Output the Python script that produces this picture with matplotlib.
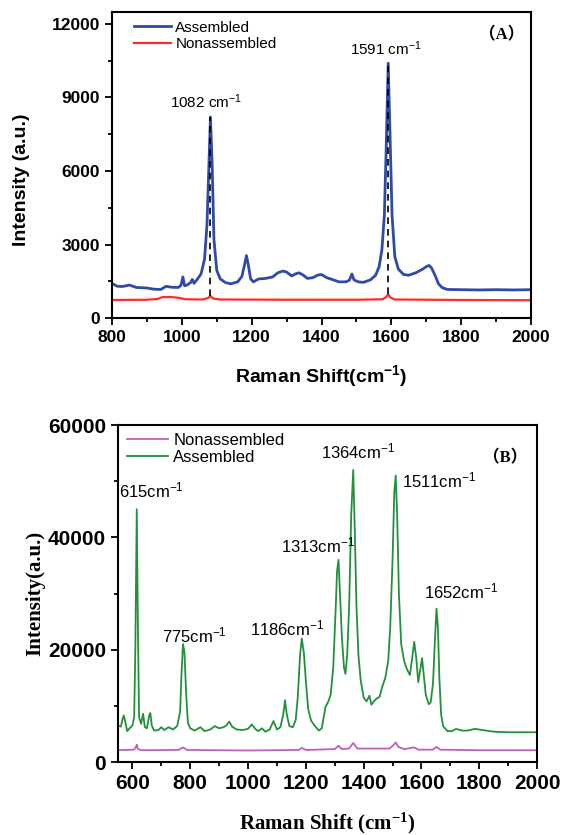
import matplotlib
matplotlib.use('Agg')
import matplotlib.pyplot as plt
from matplotlib.ticker import MultipleLocator

plt.rcParams['font.family'] = ['Liberation Sans', 'DejaVu Sans']
plt.rcParams['mathtext.default'] = 'regular'

# (A) Raman spectra
a_x = [800, 815, 830, 850, 870, 900, 920, 940, 955, 970, 990, 998, 1003, 1008, 1015, 1025, 1030, 1035, 1045,
       1055, 1065, 1072, 1077, 1082, 1087, 1092, 1100, 1110, 1125, 1140, 1160, 1172, 1180, 1185, 1190, 1197,
       1205, 1220, 1240, 1260, 1275, 1290, 1300, 1315, 1325, 1335, 1345, 1360, 1375, 1390, 1400, 1415, 1430,
       1450, 1470, 1480, 1487, 1493, 1505, 1520, 1540, 1555, 1565, 1573, 1580, 1585, 1591, 1596, 1602, 1610,
       1620, 1635, 1650, 1670, 1690, 1700, 1708, 1715, 1725, 1735, 1745, 1760, 1800, 1850, 1900, 1950, 2000]
a_assembled = [1420, 1300, 1290, 1350, 1250, 1230, 1180, 1170, 1300, 1260, 1250, 1350, 1680, 1320, 1350, 1450,
               1580, 1420, 1600, 1800, 2400, 3800, 6000, 8200, 6200, 3200, 1950, 1600, 1450, 1400, 1480, 1700,
               2200, 2550, 2200, 1600, 1480, 1600, 1620, 1680, 1850, 1920, 1880, 1720, 1800, 1850, 1780, 1620,
               1650, 1760, 1780, 1650, 1580, 1480, 1480, 1550, 1800, 1560, 1480, 1460, 1560, 1750, 2100, 2800,
               4200, 6800, 10400, 7600, 4200, 2500, 2000, 1780, 1750, 1850, 2000, 2100, 2150, 2050, 1750, 1400,
               1250, 1170, 1160, 1150, 1160, 1150, 1160]
a_x2 = [800, 900, 930, 945, 970, 990, 1010, 1060, 1075, 1082, 1090, 1110, 1300, 1500, 1575, 1585, 1591, 1597,
        1610, 1800, 2000]
a_nonassembled = [740, 750, 780, 860, 860, 830, 770, 760, 820, 900, 800, 760, 750, 750, 770, 860, 980, 840,
                  760, 740, 730]
a_peaks = [1082, 1591]
a_peak_top = [8200, 10400]
a_peak_bottom = [900, 980]

# (B)
b_x = [550, 560, 565, 570, 575, 582, 590, 600, 606, 610, 615, 619, 623, 630, 637, 643, 650, 658, 662, 667, 675,
       690, 700, 710, 725, 740, 755, 765, 770, 775, 780, 786, 792, 800, 815, 835, 850, 870, 885, 900, 915, 925,
       935, 945, 960, 980, 1000, 1013, 1025, 1035, 1048, 1060, 1075, 1088, 1100, 1112, 1122, 1128, 1134, 1143,
       1155, 1165, 1172, 1180, 1186, 1193, 1200, 1208, 1218, 1230, 1245, 1255, 1262, 1268, 1278, 1286, 1295,
       1303, 1308, 1313, 1318, 1325, 1332, 1337, 1343, 1350, 1357, 1364, 1369, 1375, 1382, 1390, 1400, 1410,
       1420, 1427, 1435, 1445, 1455, 1465, 1475, 1485, 1492, 1500, 1506, 1511, 1516, 1522, 1530, 1540, 1550,
       1560, 1568, 1575, 1582, 1589, 1596, 1602, 1608, 1615, 1625, 1632, 1640, 1646, 1652, 1657, 1662, 1668,
       1675, 1690, 1705, 1720, 1740, 1760, 1785, 1810, 1850, 1900, 1950, 2000]
b_assembled = [6500, 6300, 7500, 8300, 7200, 5500, 6000, 6500, 8000, 20000, 45000, 24000, 8000, 6800, 8600,
               6200, 6000, 8300, 8700, 6500, 5600, 5700, 6200, 5700, 6200, 5800, 6400, 9000, 16000, 21000, 19500,
               12000, 7000, 6000, 5600, 6200, 5500, 5800, 6400, 6000, 6200, 6500, 7200, 6300, 5800, 5700, 5900,
               6700, 5900, 5500, 6000, 5400, 5800, 7300, 5800, 6200, 8500, 11000, 8500, 6400, 6200, 7500, 11500,
               19000, 22000, 19500, 14500, 9500, 7400, 6500, 5600, 6000, 8000, 9800, 10800, 12000, 17000, 27000,
               34000, 36000, 30000, 22000, 16800, 15700, 19000, 28000, 44000, 52000, 42000, 28000, 19000, 14500,
               11500, 10800, 11800, 10200, 10800, 11300, 11600, 13500, 15000, 18000, 24000, 36000, 48000, 51000,
               44000, 30000, 21000, 18000, 16500, 15500, 18500, 21400, 18500, 14200, 16500, 18500, 15500, 12000,
               10300, 10600, 14000, 21000, 27300, 24000, 15000, 8500, 6400, 5500, 5500, 5900, 5600, 5600, 5900,
               5700, 5400, 5300, 5300, 5300]
b_x2 = [550, 605, 612, 615, 619, 630, 760, 775, 790, 1000, 1175, 1186, 1200, 1300, 1313, 1325, 1350, 1364,
        1378, 1490, 1505, 1511, 1520, 1540, 1575, 1590, 1640, 1652, 1665, 1800, 2000]
b_nonassembled = [2100, 2200, 2600, 3100, 2300, 2100, 2150, 2600, 2150, 2050, 2150, 2500, 2150, 2300, 2900,
                  2300, 2400, 3400, 2400, 2400, 3100, 3500, 2700, 2300, 2600, 2200, 2200, 2700, 2200, 2100, 2100]
b_labels = ['615', '775', '1186', '1313', '1364', '1511', '1652']
b_label_x = [665, 813, 1134, 1241, 1380, 1662, 1737]
b_label_y = [48400, 22600, 23800, 38600, 55300, 50200, 30300]

fig = plt.figure(figsize=(5.61, 8.35), dpi=100)

# ---- panel A
ax1 = fig.add_axes([0.1996, 0.619, 0.747, 0.367])
ax1.plot(a_x, a_assembled, color='#2f4aa8', lw=2.0, label='Assembled')
ax1.plot(a_x2, a_nonassembled, color='#ff2a2a', lw=1.6, label='Nonassembled')
for px, top, bot in zip(a_peaks, a_peak_top, a_peak_bottom):
    ax1.plot([px, px], [bot, top], color='black', ls='--', lw=1.2, dashes=(4, 3))
ax1.text(1069, 8820, '1082 cm$^{-1}$', ha='center', va='center', fontsize=11)
ax1.text(1584, 10980, '1591 cm$^{-1}$', ha='center', va='center', fontsize=11)
ax1.text(0.93, 0.922, '（A）', transform=ax1.transAxes, ha='center', va='center', fontsize=12,
         fontweight='bold', family=['Liberation Serif', 'Noto Sans CJK SC'])
ax1.set_xlim(800, 2000)
ax1.set_ylim(0, 12500)
ax1.xaxis.set_major_locator(MultipleLocator(200))
ax1.xaxis.set_minor_locator(MultipleLocator(100))
ax1.yaxis.set_major_locator(MultipleLocator(3000))
ax1.yaxis.set_minor_locator(MultipleLocator(1500))
ax1.set_xlabel('Raman Shift(cm$^{-1}$)', fontsize=14, fontweight='bold', labelpad=13)
ax1.set_ylabel('Intensity (a.u.)', fontsize=14, fontweight='bold')
ax1.yaxis.set_label_coords(-0.195, 0.45)
ax1.legend(loc='upper left', bbox_to_anchor=(0.02, 1.015), frameon=False, fontsize=11,
           handlelength=2.4, handletextpad=0.3, labelspacing=0.15)

# ---- panel B
ax2 = fig.add_axes([0.2103, 0.0874, 0.747, 0.4036])
ax2.plot(b_x2, b_nonassembled, color='#c05ec0', lw=1.3, label='Nonassembled')
ax2.plot(b_x, b_assembled, color='#23903c', lw=1.3, label='Assembled')
for lab, lx, ly in zip(b_labels, b_label_x, b_label_y):
    ax2.text(lx, ly, lab + 'cm$^{-1}$', ha='center', va='center', fontsize=12)
ax2.text(0.924, 0.902, '（B）', transform=ax2.transAxes, ha='center', va='center', fontsize=12,
         fontweight='bold', family=['Liberation Serif', 'Noto Sans CJK SC'])
ax2.set_xlim(550, 2000)
ax2.set_ylim(0, 60000)
ax2.xaxis.set_major_locator(MultipleLocator(200))
ax2.xaxis.set_minor_locator(MultipleLocator(100))
ax2.yaxis.set_major_locator(MultipleLocator(20000))
ax2.yaxis.set_minor_locator(MultipleLocator(10000))
ax2.set_xlabel('Raman Shift (cm$^{-1}$)', fontsize=15, fontweight='bold', family='Liberation Serif')
ax2.xaxis.set_label_coords(0.5, -0.145)
ax2.set_ylabel('Intensity(a.u.)', fontsize=15, fontweight='bold', family='Liberation Serif', labelpad=2)
ax2.legend(loc='upper left', bbox_to_anchor=(-0.015, 1.02), frameon=False, fontsize=12,
           handlelength=2.5, handletextpad=0.3, labelspacing=0.1)

for ax, fs in ((ax1, 12.5), (ax2, 15)):
    for s in ax.spines.values():
        s.set_linewidth(1.5)
    ax.tick_params(which='both', direction='out', width=1.3, top=False, right=False)
    ax.tick_params(which='major', length=5, labelsize=fs)
    ax.tick_params(which='minor', length=3)
    for t in ax.get_xticklabels() + ax.get_yticklabels():
        t.set_fontweight('bold')

fig.savefig('out.png', dpi=100)
